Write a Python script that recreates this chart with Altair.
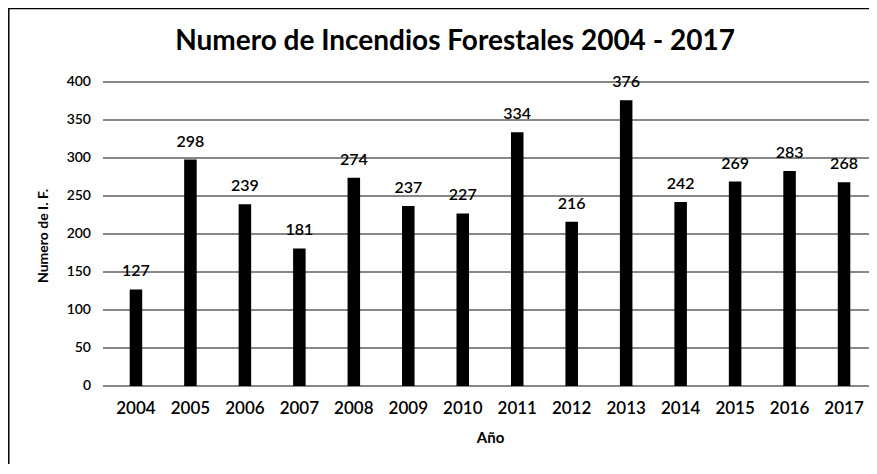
import altair as alt
import pandas as pd

years = ["2004", "2005", "2006", "2007", "2008", "2009", "2010",
         "2011", "2012", "2013", "2014", "2015", "2016", "2017"]
fires = [127, 298, 239, 181, 274, 237, 227, 334, 216, 376, 242, 269, 283, 268]
y_ticks = [0, 50, 100, 150, 200, 250, 300, 350, 400]
chart_title = "Numero de Incendios Forestales 2004 - 2017"
x_title = "Año"
y_title = "Numero de I. F."

df = pd.DataFrame({"year": years, "n": fires})
grid_df = pd.DataFrame({"v": y_ticks})

FONT = "Lato"
W, H = 766, 304
PAD = {"left": 95, "top": 74, "right": 0, "bottom": 78}

x_enc = alt.X(
    "year:N", sort=years,
    scale=alt.Scale(range=[0, 774], paddingInner=0.77, paddingOuter=0.49),
    axis=alt.Axis(title=x_title, labelAngle=0, ticks=False, domain=False, grid=False,
                  labelFont=FONT, labelFontSize=17, labelFontWeight=600, labelColor="black",
                  labelPadding=14,
                  titleFont=FONT, titleFontSize=15, titleFontWeight="bold", titleColor="black",
                  titlePadding=14),
)
y_scale = alt.Scale(domain=[0, 400], nice=False)
y_enc = alt.Y("n:Q", scale=y_scale, axis=None)
y_grid = alt.Y("v:Q", scale=y_scale, axis=None)

grid = alt.Chart(grid_df).mark_rule(color="#111111", strokeWidth=1).encode(y=y_grid)

tick_labels = alt.Chart(grid_df).mark_text(
    align="right", baseline="middle", font=FONT, fontSize=14, fontWeight=600, color="black"
).encode(y=y_grid, x=alt.value(-12), text="v:Q")

y_title_mark = alt.Chart(pd.DataFrame({"t": [y_title]})).mark_text(
    angle=270, align="center", baseline="middle", font=FONT, fontSize=14, fontWeight="bold",
    color="black"
).encode(x=alt.value(-59), y=alt.value(154), text="t:N")

bars = alt.Chart(df).mark_bar(color="black").encode(x=x_enc, y=y_enc)

labels = alt.Chart(df).mark_text(
    dy=-18, baseline="middle", align="center", font=FONT, fontSize=16, fontWeight=600, color="black"
).encode(x=x_enc, y=y_enc, text="n:Q")

title = alt.Chart(pd.DataFrame({"t": [chart_title]})).mark_text(
    font=FONT, fontSize=28, fontWeight="bold", align="center", baseline="middle", color="black"
).encode(x=alt.value(352), y=alt.value(-40), text="t:N")

one = pd.DataFrame({"a": [0]})
border_left = alt.Chart(one).mark_rule(color="black", strokeWidth=1.5).encode(
    x=alt.value(-94.2), y=alt.value(-74), y2=alt.value(400)
)
border_top = alt.Chart(one).mark_rule(color="black", strokeWidth=1.2).encode(
    x=alt.value(-95), x2=alt.value(800), y=alt.value(-73.4)
)

chart = alt.layer(border_left, border_top, grid, tick_labels, y_title_mark, bars, labels, title).properties(
    width=W, height=H, padding=PAD, autosize="none", background="white"
).configure_view(strokeWidth=0)

chart.save("out.html", embed_options={"renderer": "svg", "actions": False})
